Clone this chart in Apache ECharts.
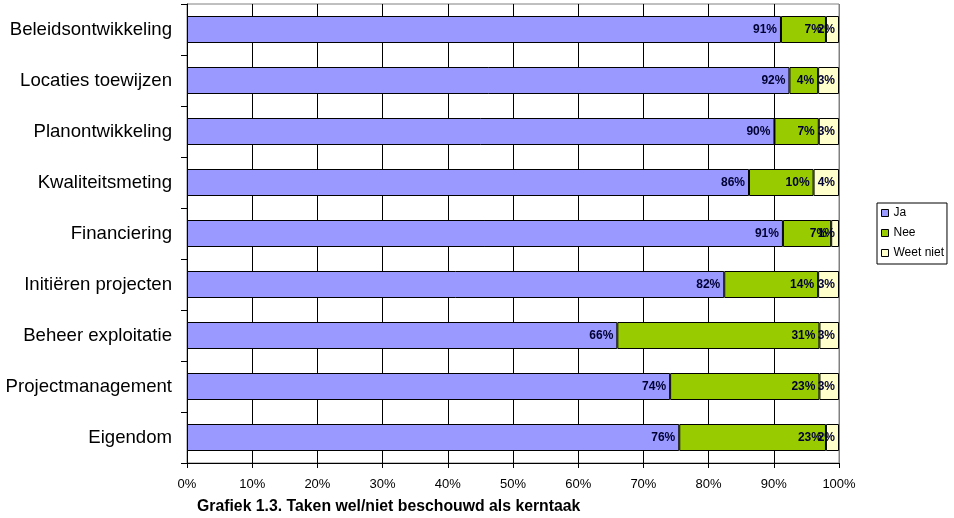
<!DOCTYPE html>
<html>
<head>
<meta charset="utf-8">
<script src="https://cdn.jsdelivr.net/npm/echarts@6/dist/echarts.min.js"></script>
<style>
html,body{margin:0;padding:0;background:#fff;}
#c{width:954px;height:518px;}
</style>
</head>
<body>
<div id="c"></div>
<script>
const categories = ['Beleidsontwikkeling','Locaties toewijzen','Planontwikkeling','Kwaliteitsmeting','Financiering','Initiëren projecten','Beheer exploitatie','Projectmanagement','Eigendom'];
const ja = [91.1, 92.4, 90.1, 86.2, 91.4, 82.4, 66.0, 74.1, 75.5];
const nee = [6.9, 4.4, 6.8, 9.9, 7.4, 14.4, 31.0, 22.9, 22.5];
const weetNiet = [2.0, 3.2, 3.1, 3.9, 1.2, 3.2, 3.0, 3.0, 2.0];
const xTicks = [0,10,20,30,40,50,60,70,80,90,100];
const seriesNames = ['Ja','Nee','Weet niet'];
const colors = ['#9999FF','#99CC00','#FFFFCC'];
const caption = 'Grafiek 1.3. Taken wel/niet beschouwd als kerntaak';

const chart = echarts.init(document.getElementById('c'), null, {renderer:'canvas'});
const lineColors = xTicks.map((t,i)=> i === xTicks.length-1 ? '#808080' : '#000');
const labelCfg = {
  show:true, position:'insideRight', distance:4,
  formatter: p => Math.round(p.value) + '%',
  color:'#000033', fontFamily:'Liberation Sans, Arial', fontWeight:'bold', fontSize:12
};
const mk = (name, data, i) => ({
  name, type:'bar', stack:'tot', data, barWidth:27,
  itemStyle:{color:colors[i], borderColor:'#000', borderWidth:1},
  label:labelCfg, emphasis:{disabled:true}
});
chart.setOption({
  animation:false,
  backgroundColor:'#fff',
  title:{text:caption, left:197, top:499, textStyle:{fontFamily:'Liberation Sans, Arial', fontWeight:'bold', fontSize:15.8, color:'#000'}, padding:0},
  legend:{
    data:seriesNames, orient:'vertical', left:877, top:203,
    padding:[4,3,5,4], itemGap:8, itemWidth:7, itemHeight:7, icon:'rect',
    borderColor:'#000', borderWidth:1,
    textStyle:{fontFamily:'Liberation Sans, Arial', fontSize:12, color:'#000'},
    itemStyle:{borderColor:'#000', borderWidth:1}
  },
  grid:{left:187, right:115, top:4, bottom:55, show:true, borderColor:'#808080', borderWidth:1, backgroundColor:'#fff'},
  xAxis:{
    type:'value', min:0, max:100, interval:10,
    axisLine:{show:true, lineStyle:{color:'#000'}},
    axisTick:{show:true, length:5, lineStyle:{color:'#000'}},
    splitLine:{show:true, lineStyle:{color:lineColors, width:1}},
    axisLabel:{formatter: v => v + '%', margin:15, fontFamily:'Liberation Sans, Arial', fontSize:13, color:'#000'}
  },
  yAxis:{
    type:'category', data:categories, inverse:true,
    axisLine:{show:true, lineStyle:{color:'#000'}},
    axisTick:{show:true, length:6, lineStyle:{color:'#000'}},
    axisLabel:{margin:15, fontFamily:'Liberation Sans, Arial', fontSize:18.6, color:'#000'}
  },
  series:[mk(seriesNames[0], ja, 0), mk(seriesNames[1], nee, 1), mk(seriesNames[2], weetNiet, 2)]
});
</script>
</body>
</html>
